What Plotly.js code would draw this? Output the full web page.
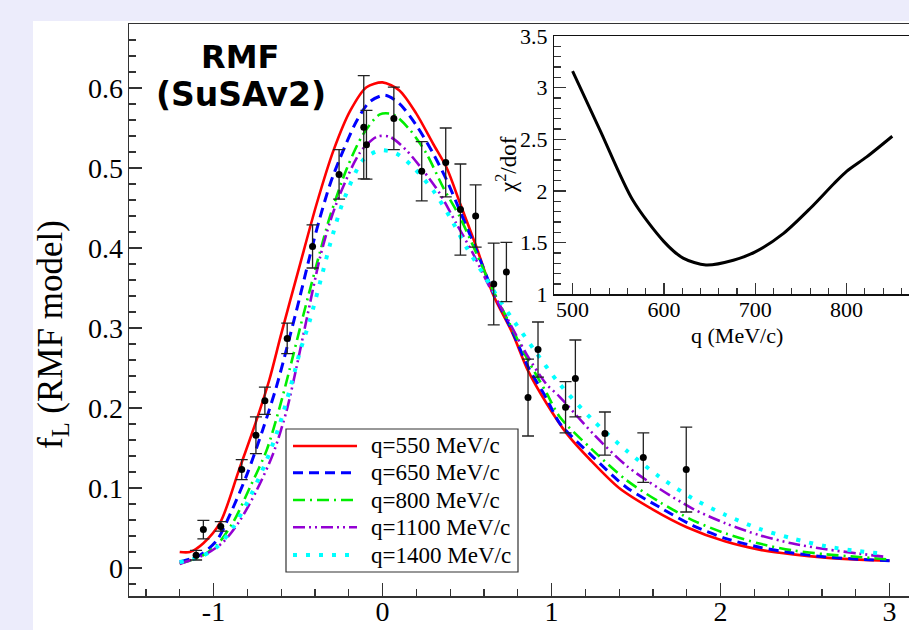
<!DOCTYPE html>
<html>
<head>
<meta charset="utf-8">
<script src="https://cdn.plot.ly/plotly-3.0.1.min.js"></script>
<style>html,body{margin:0;padding:0;background:#fff;}#chart{width:909px;height:630px;}</style>
</head>
<body>
<div id="chart"></div>
<script>
// ---- data ----
const seriesNames = ['q=550 MeV/c', 'q=650 MeV/c', 'q=800 MeV/c', 'q=1100 MeV/c', 'q=1400 MeV/c'];

const redX = [-1.20,-1.14,-1.06,-0.96,-0.85,-0.75,-0.67,-0.60,-0.49,-0.39,-0.29,-0.19,-0.095,0.0,0.10,0.20,0.30,0.38,0.46,0.556,0.654,0.77,0.86,0.97,1.09,1.23,1.40,1.60,1.80,2.03,2.23,2.43,2.62,2.82,3.0];
const redY = [0.020,0.020,0.031,0.057,0.122,0.182,0.235,0.292,0.378,0.455,0.522,0.572,0.601,0.607,0.597,0.568,0.530,0.500,0.455,0.401,0.342,0.293,0.247,0.206,0.168,0.135,0.100,0.073,0.051,0.033,0.023,0.017,0.013,0.0105,0.009];

const blueX = [-1.20,-1.08,-0.98,-0.90,-0.80,-0.71,-0.63,-0.55,-0.49,-0.43,-0.37,-0.31,-0.25,-0.154,-0.075,0.014,0.10,0.20,0.30,0.38,0.457,0.556,0.654,0.77,0.86,0.97,1.05,1.245,1.442,1.639,1.836,2.033,2.23,2.427,2.624,2.82,3.0];
const blueY = [0.0075,0.016,0.0346,0.068,0.118,0.172,0.225,0.288,0.338,0.390,0.438,0.480,0.513,0.5585,0.583,0.591,0.5805,0.5534,0.518,0.4846,0.447,0.397,0.345,0.295,0.252,0.212,0.1805,0.139,0.101,0.076,0.053,0.0367,0.026,0.0188,0.0138,0.011,0.009];

const greenX = [-1.20,-1.08,-0.981,-0.883,-0.784,-0.686,-0.607,-0.55,-0.47,-0.37,-0.31,-0.21,-0.115,-0.016,0.063,0.161,0.26,0.358,0.457,0.556,0.654,0.77,0.86,0.97,1.048,1.245,1.442,1.639,1.836,2.033,2.23,2.427,2.624,2.82,2.98];
const greenY = [0.0055,0.0138,0.0284,0.0575,0.101,0.147,0.202,0.248,0.315,0.395,0.440,0.500,0.542,0.567,0.567,0.548,0.518,0.476,0.439,0.393,0.347,0.298,0.260,0.219,0.189,0.147,0.110,0.0825,0.0596,0.043,0.0305,0.022,0.0171,0.0138,0.011];

const purpleX = [-1.20,-1.138,-1.04,-0.942,-0.843,-0.745,-0.647,-0.567,-0.51,-0.45,-0.37,-0.31,-0.25,-0.134,-0.035,0.043,0.142,0.24,0.339,0.437,0.5355,0.634,0.733,0.85,0.969,1.048,1.245,1.442,1.639,1.836,2.033,2.23,2.427,2.624,2.82,2.97];
const purpleY = [0.005,0.0096,0.018,0.0325,0.0596,0.097,0.143,0.197,0.250,0.310,0.388,0.433,0.468,0.519,0.539,0.539,0.522,0.497,0.468,0.4305,0.393,0.351,0.314,0.268,0.230,0.214,0.168,0.128,0.099,0.074,0.0555,0.041,0.0305,0.0234,0.018,0.014];

const cyanX = [-1.20,-1.08,-0.981,-0.883,-0.784,-0.686,-0.607,-0.528,-0.489,-0.43,-0.351,-0.31,-0.233,-0.115,-0.016,0.083,0.181,0.299,0.398,0.496,0.595,0.693,0.753,0.90,1.04,1.245,1.442,1.639,1.836,2.033,2.23,2.427,2.624,2.82,2.96];
const cyanY = [0.0075,0.0138,0.026,0.051,0.0888,0.1346,0.1805,0.239,0.270,0.3096,0.372,0.405,0.458,0.510,0.522,0.518,0.501,0.472,0.439,0.401,0.368,0.3346,0.316,0.272,0.232,0.1846,0.147,0.114,0.0868,0.066,0.049,0.0368,0.0271,0.021,0.018];

const dataX = [-1.103,-1.060,-0.957,-0.833,-0.749,-0.696,-0.564,-0.414,-0.257,-0.111,-0.095,0.067,0.232,0.374,0.461,0.551,0.658,0.733,0.861,0.920,1.083,1.141,1.316,1.543,1.797];
const dataY = [0.016,0.048,0.052,0.123,0.166,0.209,0.287,0.402,0.492,0.551,0.529,0.562,0.496,0.507,0.448,0.440,0.355,0.370,0.213,0.273,0.201,0.237,0.168,0.138,0.123];
const dataErr = [0.006,0.0115,0.006,0.0125,0.023,0.017,0.019,0.027,0.031,0.0645,0.043,0.039,0.037,0.043,0.057,0.039,0.051,0.037,0.048,0.0345,0.032,0.048,0.027,0.031,0.053];

const chiQ = [500,530,566,600,621,646,676,700,731,760,786,800,822,850];
const chiY = [3.16,2.59,1.91,1.51,1.35,1.284,1.33,1.41,1.59,1.83,2.07,2.19,2.33,2.53];

const mainXTicks = [-1,0,1,2,3];
const mainYTicks = [0,0.1,0.2,0.3,0.4,0.5,0.6];
const insetXTicks = [500,600,700,800];
const insetYTicks = [1,1.5,2,2.5,3,3.5];

// ---- styling ----
const serif = 'Liberation Serif, Times New Roman, serif';
const curveStyles = [
  {color:'#ff0000', width:2.6, dash:'solid'},
  {color:'#0000ff', width:3, dash:'10px,6px'},
  {color:'#00ee00', width:2.6, dash:'12px,5px,2px,5px'},
  {color:'#9400d3', width:2.6, dash:'12px,4px,2px,4px,2px,4px'},
  {color:'#00ffff', width:4, dash:'4px,9px'}
];
const curveXs = [redX, blueX, greenX, purpleX, cyanX];
const curveYs = [redY, blueY, greenY, purpleY, cyanY];

const traces = curveXs.map((xs, i) => ({
  type:'scatter', mode:'lines', x:xs, y:curveYs[i], name:seriesNames[i], showlegend:false,
  line:Object.assign({shape:'spline', smoothing:0.8}, curveStyles[i]),
  xaxis:'x', yaxis:'y'
}));
traces.push({
  type:'scatter', mode:'markers', x:dataX, y:dataY, showlegend:false,
  marker:{color:'#000', size:7},
  error_y:{type:'data', array:dataErr, visible:true, color:'#222', thickness:1.3, width:6},
  xaxis:'x', yaxis:'y'
});
traces.push({
  type:'scatter', mode:'lines', x:chiQ, y:chiY, showlegend:false,
  line:{color:'#000', width:3, shape:'spline', smoothing:0.8},
  xaxis:'x2', yaxis:'y2'
});

const L = 129, T = 24, B = 34, W = 909, H = 630;
const pw = W - L, ph = H - T - B;
const px2x = p => (p - L) / pw;
const py2y = p => (H - B - p) / ph;

const axisCommon = {
  showline:true, linecolor:'#333', linewidth:1.5, ticks:'inside', tickcolor:'#333',
  tickwidth:1.3, showgrid:false, zeroline:false, fixedrange:true
};

// legend box (drawn as a framed key in paper space)
const legBox = {x0:286, x1:518, y0:429, y1:572};
const legRows = [446, 472.7, 500, 527.3, 555];
const legendShapes = [
  {type:'rect', xref:'paper', yref:'paper', x0:px2x(legBox.x0), x1:px2x(legBox.x1), y0:py2y(legBox.y1), y1:py2y(legBox.y0),
   fillcolor:'#ffffff', line:{color:'#333', width:1.2}, layer:'above'}
].concat(legRows.map((ry, i) => ({
  type:'line', xref:'paper', yref:'paper', x0:px2x(293), x1:px2x(357), y0:py2y(ry), y1:py2y(ry),
  line:{color:curveStyles[i].color, width:curveStyles[i].width, dash:curveStyles[i].dash}, layer:'above'
})));
const legendTexts = legRows.map((ry, i) => ({
  xref:'paper', yref:'paper', x:px2x(369), y:py2y(ry), text:seriesNames[i], showarrow:false,
  xanchor:'left', yanchor:'middle', font:{family:serif, size:23, color:'#000'}
}));

const layout = {
  width:W, height:H,
  margin:{l:L, r:0, t:T, b:B, pad:0},
  paper_bgcolor:'#ffffff', plot_bgcolor:'#ffffff',
  showlegend:false,
  xaxis:Object.assign({}, axisCommon, {
    range:[-1.5, 3.115], tickmode:'array', tickvals:mainXTicks, ticktext:mainXTicks.map(String),
    ticklen:13, mirror:true, ticklabelstandoff:-10,
    minor:{dtick:0.2, tick0:0, ticks:'inside', ticklen:7, tickcolor:'#333', tickwidth:1.2, showgrid:false},
    tickfont:{family:serif, size:28, color:'#000'}
  }),
  yaxis:Object.assign({}, axisCommon, {
    range:[-0.035, 0.68], tickmode:'array', tickvals:mainYTicks, ticktext:mainYTicks.map(String),
    ticklen:13, ticklabelstandoff:-1,
    minor:{dtick:0.02, tick0:0, ticks:'inside', ticklen:7, tickcolor:'#333', tickwidth:1.2, showgrid:false},
    tickfont:{family:serif, size:28, color:'#000'}
  }),
  xaxis2:Object.assign({}, axisCommon, {
    domain:[px2x(554.3), 1], anchor:'y2', range:[480, 868.3],
    tickmode:'array', tickvals:insetXTicks, ticktext:insetXTicks.map(String),
    ticklen:11, mirror:true, linecolor:'#111', ticklabelstandoff:-5,
    minor:{dtick:20, tick0:500, ticks:'inside', ticklen:6, tickcolor:'#333', tickwidth:1.1, showgrid:false},
    tickfont:{family:serif, size:22, color:'#000'}
  }),
  yaxis2:Object.assign({}, axisCommon, {
    domain:[py2y(294.3), py2y(36)], anchor:'x2', range:[1, 3.5],
    tickmode:'array', tickvals:insetYTicks, ticktext:insetYTicks.map(String),
    ticklen:12, linecolor:'#111', ticklabelstandoff:1,
    minor:{dtick:0.1, tick0:1, ticks:'inside', ticklen:7, tickcolor:'#333', tickwidth:1.1, showgrid:false},
    tickfont:{family:serif, size:22, color:'#000'}
  }),
  shapes:[
    {type:'rect', xref:'paper', yref:'paper', x0:-0.2, x1:1.1, y0:py2y(21), y1:py2y(-10), fillcolor:'#ececfb', line:{width:0}, layer:'below'},
    {type:'rect', xref:'paper', yref:'paper', x0:-0.2, x1:px2x(33), y0:py2y(640), y1:py2y(-10), fillcolor:'#ececfb', line:{width:0}, layer:'below'}
  ].concat(legendShapes),
  annotations:[
    {xref:'paper', yref:'paper', x:px2x(240), y:py2y(57), text:'<b>RMF</b>', showarrow:false, xanchor:'center', yanchor:'middle',
     font:{family:'DejaVu Sans', size:32, color:'#000'}},
    {xref:'paper', yref:'paper', x:px2x(241), y:py2y(94), text:'<b>(SuSAv2)</b>', showarrow:false, xanchor:'center', yanchor:'middle',
     font:{family:'DejaVu Sans', size:33, color:'#000'}},
    {xref:'paper', yref:'paper', x:px2x(52), y:py2y(335), text:'f<sub>L</sub> (RMF model)', showarrow:false, textangle:-90,
     xanchor:'center', yanchor:'middle', font:{family:serif, size:35, color:'#000'}},
    {xref:'paper', yref:'paper', x:px2x(507), y:py2y(165), text:'χ<sup>2</sup>/dof', showarrow:false, textangle:-90,
     xanchor:'center', yanchor:'middle', font:{family:serif, size:23, color:'#000'}},
    {xref:'paper', yref:'paper', x:px2x(737), y:py2y(335), text:'q (MeV/c)', showarrow:false,
     xanchor:'center', yanchor:'middle', font:{family:serif, size:22, color:'#000'}}
  ].concat(legendTexts)
};

Plotly.newPlot('chart', traces, layout, {displayModeBar:false, staticPlot:true});
</script>
</body>
</html>
